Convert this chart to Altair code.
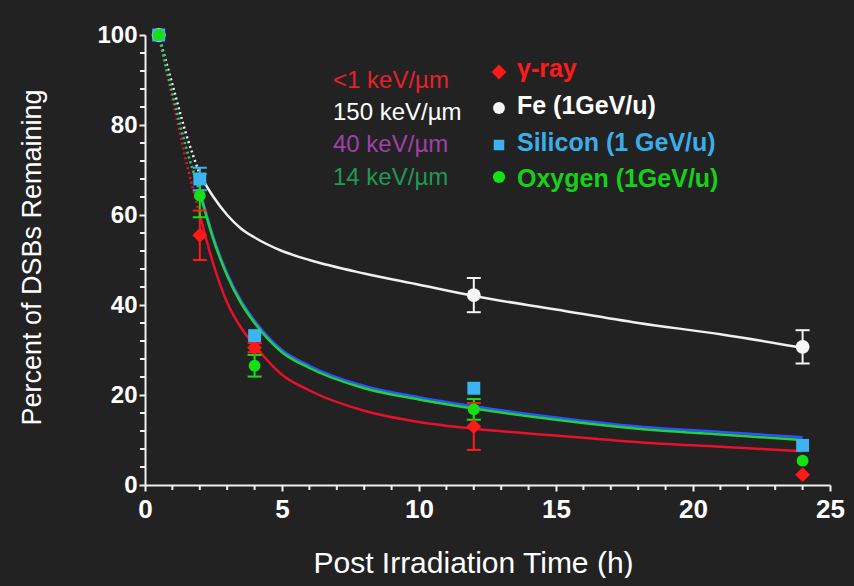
import altair as alt
import pandas as pd
import jinja2

# ---------------- data ----------------
series = ["γ-ray", "Fe (1GeV/u)", "Silicon (1 GeV/u)", "Oxygen (1GeV/u)"]
line_colors = ["#e8102a", "#f0f0f0", "#2a55ff", "#22d040"]
point_colors = ["#ff1a1a", "#f5f5f5", "#3cb4f0", "#14e014"]
shapes = ["diamond", "circle", "square", "circle"]
marker_sizes = [220, 140, 110, 150]

# fitted curves
curve_t = [0.5, 1, 1.5, 2, 2.5, 3, 3.5, 4, 5, 6, 8, 10, 12, 15, 18, 21, 24]
curve_gamma = [100, 86, 72, 60, 49, 40.5, 35, 31, 24.5, 21, 16.5, 14, 12.5, 11, 9.5, 8.5, 7.5]
curve_fe = [100, 89, 78, 69, 64, 60, 57, 55, 52, 50, 47, 44.5, 42, 39, 36, 33.5, 30.5]
curve_si = [100, 87, 75, 65.5, 55, 47, 41, 36.5, 30, 26.5, 22, 19.5, 17.5, 15, 13, 11.8, 10.6]
curve_o = [100, 87, 75, 65, 54.5, 46.5, 40.5, 36, 29.5, 26, 21.5, 19, 17, 14.5, 12.5, 11.2, 10]

# measured points
pt_t_gamma = [0.5, 2, 4, 12, 24]
pt_gamma = [100, 55.5, 30.5, 13, 2.3]
err_gamma = [0, 5.5, 1.0, 5.2, 0]
pt_t_fe = [0.5, 12, 24]
pt_fe = [100, 42.2, 30.7]
err_fe = [0, 3.8, 3.7]
pt_t_si = [0.5, 2, 4, 12, 24]
pt_si = [100, 68, 33.2, 21.5, 8.8]
err_si = [0, 2.5, 0, 0, 0]
pt_t_o = [0.5, 2, 4, 12, 24]
pt_o = [100, 64.3, 26.5, 16.8, 5.4]
err_o = [0, 4.8, 2.4, 2.3, 0]

left_labels = ["<1 keV/µm", "150 keV/µm", "40 keV/µm", "14 keV/µm"]
left_colors = ["#e8202a", "#ffffff", "#a040a8", "#1f9a55"]
right_text_colors = ["#ff1a1a", "#ffffff", "#3aaee8", "#18d018"]

x_major = [0, 5, 10, 15, 20, 25]
y_major = [0, 20, 40, 60, 80, 100]
x_minor = [v for v in range(0, 26) if v % 5 != 0]
y_minor = [v for v in range(0, 101, 4) if v % 20 != 0]

BG = "#222222"

# ---------------- tables ----------------
curves_vals = [curve_gamma, curve_fe, curve_si, curve_o]
rows = []
for s, vals in zip(series, curves_vals):
    for t, v in zip(curve_t, vals):
        rows.append({"series": s, "t": t, "v": v})
curve_df = pd.DataFrame(rows)
dot_df = curve_df[curve_df["t"] <= 2]
solid_df = curve_df[curve_df["t"] >= 2]

pts = [(pt_t_gamma, pt_gamma, err_gamma), (pt_t_fe, pt_fe, err_fe),
       (pt_t_si, pt_si, err_si), (pt_t_o, pt_o, err_o)]
prow = []
for i, (s, (ts, vs, es)) in enumerate(zip(series, pts)):
    for t, v, e in zip(ts, vs, es):
        prow.append({"series": s, "ord": i, "t": t, "v": v, "lo": v - e, "hi": v + e, "e": e})
pt_df = pd.DataFrame(prow)
err_df = pt_df[pt_df["e"] > 0]

W, H = 685, 450

xs = alt.Scale(domain=[0, 25], nice=False, zero=False)
ys = alt.Scale(domain=[0, 100], nice=False)
lc = alt.Scale(domain=series, range=line_colors)
pc = alt.Scale(domain=series, range=point_colors)
sh = alt.Scale(domain=series, range=shapes)
sz = alt.Scale(domain=series, range=marker_sizes)

x_axis = alt.Axis(
    values=x_major, labelOverlap=False,
    title="Post Irradiation Time (h)", grid=False,
    domainColor="#f0f0f0", domainWidth=2, tickColor="#f0f0f0", tickWidth=2, tickSize=6,
    labelColor="#ffffff", labelFont="Liberation Sans", labelFontWeight="bold", labelFontSize=26,
    labelPadding=5, labelFlush=False,
    titleColor="#ffffff", titleFont="Liberation Sans", titleFontWeight="normal", titleFontSize=30,
    titleX=328, titleY=87, titleBaseline="alphabetic", titleAnchor="middle")
y_axis = alt.Axis(
    values=y_major, labelOverlap=False,
    title="Percent of DSBs Remaining", grid=False,
    domainColor="#f0f0f0", domainWidth=2, tickColor="#f0f0f0", tickWidth=2, tickSize=6,
    labelColor="#ffffff", labelFont="Liberation Sans", labelFontWeight="bold", labelFontSize=24,
    labelPadding=2, labelFlush=False,
    titleColor="#ffffff", titleFont="Liberation Sans", titleFontWeight="normal", titleFontSize=27,
    titleAngle=-90, titleX=-105, titleY=222, titleBaseline="alphabetic", titleAlign="center")

X = alt.X("t:Q", scale=xs, axis=x_axis)
Y = alt.Y("v:Q", scale=ys, axis=y_axis)

dots = alt.Chart(dot_df).mark_line(strokeDash=[2, 3], strokeWidth=2.5, interpolate="monotone").encode(
    x=X, y=Y, stroke=alt.Stroke("series:N", scale=lc, legend=None), detail="series:N")
solid = alt.Chart(solid_df).mark_line(strokeWidth=2.5, interpolate="monotone").encode(
    x=X, y=Y, stroke=alt.Stroke("series:N", scale=lc, legend=None), detail="series:N")

ebar = alt.Chart(err_df).mark_rule(strokeWidth=2).encode(
    x=X, y=alt.Y("lo:Q", scale=ys, axis=y_axis), y2="hi:Q",
    color=alt.Color("series:N", scale=pc, legend=None))
cap_lo = alt.Chart(err_df).mark_rule(strokeWidth=2, xOffset=-7, x2Offset=7).encode(
    x=X, x2="t:Q", y=alt.Y("lo:Q", scale=ys, axis=y_axis),
    color=alt.Color("series:N", scale=pc, legend=None))
cap_hi = alt.Chart(err_df).mark_rule(strokeWidth=2, xOffset=-7, x2Offset=7).encode(
    x=X, x2="t:Q", y=alt.Y("hi:Q", scale=ys, axis=y_axis),
    color=alt.Color("series:N", scale=pc, legend=None))

points = alt.Chart(pt_df).mark_point(filled=True, opacity=1).encode(
    x=X, y=Y,
    color=alt.Color("series:N", scale=pc, legend=None),
    shape=alt.Shape("series:N", scale=sh, legend=None),
    size=alt.Size("series:N", scale=sz, legend=None),
    order=alt.Order("ord:Q"))

# minor ticks
xmin_t = alt.Chart(pd.DataFrame({"t": x_minor})).mark_rule(
    color="#f0f0f0", strokeWidth=2).encode(
    x=X, y=alt.value(H), y2=alt.value(H + 5))
ymin_t = alt.Chart(pd.DataFrame({"v": y_minor})).mark_rule(
    color="#f0f0f0", strokeWidth=2).encode(
    y=Y, x=alt.value(-5), x2=alt.value(0))

layers = [xmin_t, ymin_t, dots, solid, ebar, cap_lo, cap_hi, points]

# legend-like annotation text
left_base = [53, 85, 117, 150]
right_base = [42, 79, 116, 152]
marker_y = [37, 73, 110, 142]
for lab, col, yb in zip(left_labels, left_colors, left_base):
    layers.append(alt.Chart(pd.DataFrame({"l": [lab]})).mark_text(
        align="left", baseline="alphabetic", font="Liberation Sans", fontSize=24,
        color=col).encode(text="l:N", x=alt.value(188), y=alt.value(yb)))
for lab, col, yb in zip(series, right_text_colors, right_base):
    layers.append(alt.Chart(pd.DataFrame({"l": [lab]})).mark_text(
        align="left", baseline="alphabetic", font="Liberation Sans", fontSize=25,
        fontWeight="bold", color=col).encode(text="l:N", x=alt.value(372), y=alt.value(yb)))
for shp, col, my, ms in zip(shapes, point_colors, marker_y, marker_sizes):
    layers.append(alt.Chart(pd.DataFrame({"l": [0]})).mark_point(
        filled=True, opacity=1, shape=shp, size=ms, color=col).encode(
        x=alt.value(354), y=alt.value(my)))

chart = alt.layer(*layers).properties(
    width=W, height=H,
    autosize=alt.AutoSizeParams(type="none"),
    padding={"left": 137, "top": 27, "right": 838 - 137 - W, "bottom": 93},
    background=BG,
).configure_view(stroke=None)


# page template that also paints the page margin in the chart's background colour
class DarkPage(jinja2.Template):
    def render(self, *args, **kwargs):
        from altair.utils.html import HTML_TEMPLATE
        html = HTML_TEMPLATE.render(*args, **kwargs)
        style = "<style>html,body{background:%s;}</style>" % BG
        if "<head>" in html:
            return html.replace("<head>", "<head>" + style, 1)
        return html.replace("<body>", "<body>" + style, 1)


try:
    chart.save("out.html", embed_options={"renderer": "svg", "actions": False},
               template=DarkPage("x"))
except Exception:
    chart.save("out.html", embed_options={"renderer": "svg", "actions": False})
